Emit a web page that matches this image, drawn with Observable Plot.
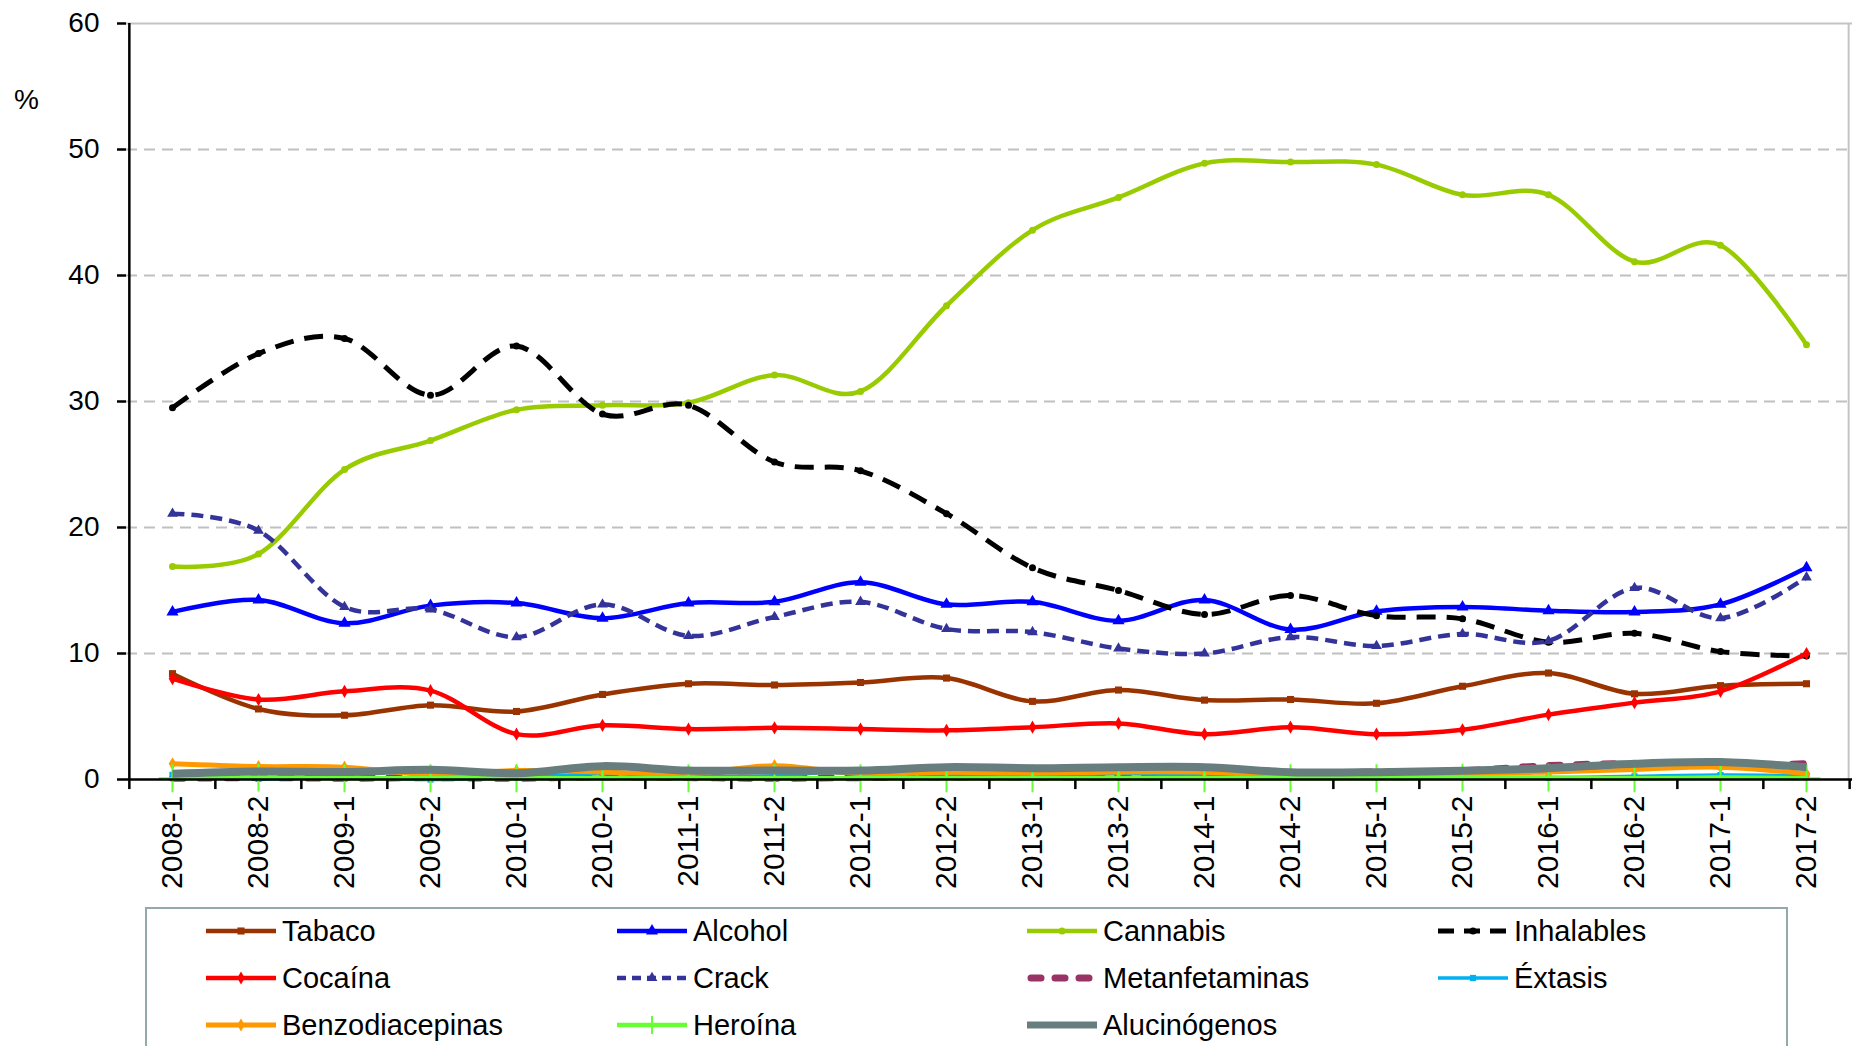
<!DOCTYPE html>
<html><head><meta charset="utf-8">
<script src="https://cdn.jsdelivr.net/npm/d3@7"></script>
<script src="https://cdn.jsdelivr.net/npm/@observablehq/plot@0.6"></script>
<style>
body{margin:0;background:#fff;font-family:"Liberation Sans",Arial,sans-serif;}
#wrap{position:relative;width:1854px;height:1046px;overflow:hidden;}
#legend{position:absolute;left:145px;top:907px;width:1643px;height:170px;border:2px solid #93aaaa;box-sizing:border-box;}
.item{position:absolute;height:30px;display:flex;align-items:center;font-size:29px;color:#000;white-space:nowrap;}
.item svg{display:block;margin-right:6px;}
</style></head><body>
<div id="wrap"><div id="chart"></div><div id="legend"></div></div>
<script>
const periods = ["2008-1","2008-2","2009-1","2009-2","2010-1","2010-2","2011-1","2011-2","2012-1","2012-2","2013-1","2013-2","2014-1","2014-2","2015-1","2015-2","2016-1","2016-2","2017-1","2017-2"];
const yTicks = [0, 10, 20, 30, 40, 50, 60];

const tabaco = [8.4, 5.6, 5.1, 5.9, 5.4, 6.75, 7.6, 7.5, 7.7, 8.05, 6.2, 7.1, 6.3, 6.35, 6.05, 7.4, 8.45, 6.8, 7.45, 7.6];
const alcohol = [13.3, 14.25, 12.4, 13.8, 14.0, 12.8, 14.0, 14.1, 15.65, 13.9, 14.1, 12.6, 14.25, 11.9, 13.35, 13.7, 13.4, 13.3, 13.9, 16.8];
const cannabis = [16.9, 17.9, 24.6, 26.9, 29.35, 29.7, 29.9, 32.1, 30.8, 37.6, 43.6, 46.2, 48.9, 49.0, 48.8, 46.4, 46.4, 41.1, 42.4, 34.5];
const inhalables = [29.5, 33.8, 35.0, 30.5, 34.4, 29.0, 29.7, 25.2, 24.5, 21.1, 16.8, 15.0, 13.1, 14.6, 13.0, 12.75, 10.9, 11.6, 10.15, 9.8];
const cocaina = [8.0, 6.35, 7.0, 7.05, 3.6, 4.3, 4.0, 4.1, 4.0, 3.9, 4.15, 4.45, 3.6, 4.15, 3.6, 3.95, 5.15, 6.1, 7.0, 10.0];
const crack = [21.1, 19.75, 13.7, 13.5, 11.3, 13.9, 11.4, 12.9, 14.1, 11.95, 11.7, 10.4, 10.0, 11.3, 10.6, 11.55, 11.0, 15.2, 12.8, 16.05];
const metanfetaminas = [0.1, 0.15, 0.1, 0.15, 0.1, 0.2, 0.15, 0.1, 0.15, 0.2, 0.2, 0.2, 0.25, 0.4, 0.6, 0.7, 1.1, 1.25, 1.1, 1.25];
const extasis = [0.37, 0.05, 0.2, 0.0, 0.15, 0.45, 0.25, 0.3, 0.7, 0.3, 0.3, 0.45, 0.35, 0.25, 0.25, 0.2, 0.15, 0.25, 0.35, 0.3];
const benzodiacepinas = [1.25, 1.03, 0.98, 0.37, 0.71, 0.6, 0.45, 1.1, 0.45, 0.58, 0.5, 0.6, 0.58, 0.3, 0.45, 0.45, 0.6, 0.8, 0.98, 0.45];
const heroina = [0.1, 0.15, 0.1, 0.1, 0.1, 0.1, 0.1, 0.1, 0.1, 0.1, 0.1, 0.1, 0.1, 0.1, 0.1, 0.15, 0.15, 0.1, 0.15, 0.1];
const alucinogenos = [0.45, 0.63, 0.6, 0.77, 0.5, 1.06, 0.71, 0.71, 0.71, 0.98, 0.9, 0.98, 0.98, 0.58, 0.58, 0.7, 0.9, 1.25, 1.38, 0.98];

const series = [
  {name: "Tabaco", values: tabaco, color: "#993300", width: 4.5, dash: null, symbol: "square", r: 4},
  {name: "Alcohol", values: alcohol, color: "#0000ff", width: 4.5, dash: null, symbol: "triangle", r: 4.5},
  {name: "Cannabis", values: cannabis, color: "#99cc00", width: 4.5, dash: null, symbol: "circle", r: 3.5},
  {name: "Inhalables", values: inhalables, color: "#000000", width: 5, dash: "19,11", symbol: "circle", r: 3.5},
  {name: "Cocaína", values: cocaina, color: "#ff0000", width: 4.5, dash: null, symbol: "diamond", r: 4},
  {name: "Crack", values: crack, color: "#333399", width: 4.5, dash: "12,7", symbol: "triangle", r: 4},
  {name: "Metanfetaminas", values: metanfetaminas, color: "#993366", width: 7, dash: "11,16", cap: "round", symbol: null},
  {name: "Éxtasis", values: extasis, color: "#00b0f0", width: 3.5, dash: null, symbol: "square", r: 3.5},
  {name: "Benzodiacepinas", values: benzodiacepinas, color: "#ff9900", width: 5, dash: null, symbol: "diamond", r: 4},
  {name: "Heroína", values: heroina, color: "#66ff33", width: 4.5, dash: null, symbol: "plus", r: 9},
  {name: "Alucinógenos", values: alucinogenos, color: "#687e7e", width: 8, dash: null, symbol: null}
];

const W = 1854, H = 905, ML = 126, MR = 2, MT = 23, MB = 126;
const step = (W - ML - MR) / periods.length;

const marks = [
  Plot.ruleY([10, 20, 30, 40, 50], {stroke: "#c0c0c0", strokeWidth: 2, strokeDasharray: "11,7"}),
  Plot.ruleY([60], {stroke: "#c4c4c4", strokeWidth: 2}),
  Plot.ruleX([periods[periods.length - 1]], {dx: step / 2 - 1, y1: 0, y2: 60, stroke: "#c4c4c4", strokeWidth: 2})
];

for (const s of series) {
  const rows = periods.map((p, i) => ({period: p, value: s.values[i]}));
  marks.push(Plot.line(rows, {
    x: "period", y: "value", stroke: s.color, strokeWidth: s.width,
    strokeDasharray: s.dash || undefined, strokeLinecap: s.cap || "butt",
    strokeLinejoin: "round", curve: "cardinal"
  }));
  if (s.symbol === "plus") {
    marks.push(Plot.dot(rows, {x: "period", y: "value", symbol: "plus", r: s.r, stroke: s.color, strokeWidth: 2}));
  } else if (s.symbol) {
    marks.push(Plot.dot(rows, {x: "period", y: "value", symbol: s.symbol, r: s.r, fill: s.color, stroke: "none"}));
  }
}

marks.push(
  Plot.ruleY([0], {stroke: "#000", strokeWidth: 2.5}),
  Plot.ruleX([periods[0]], {dx: -step / 2, y1: 0, y2: 60, stroke: "#000", strokeWidth: 2.5}),
  Plot.ruleX(periods, {dx: -step / 2, y1: 0, y2: -0.8, stroke: "#000", strokeWidth: 2.5}),
  Plot.ruleX([periods[periods.length - 1]], {dx: step / 2, y1: 0, y2: -0.8, stroke: "#000", strokeWidth: 2.5}),
  Plot.axisY({ticks: yTicks, tickSize: 9, tickPadding: 18, fontSize: 28, tickFormat: d => String(d), label: null, stroke: "#000", strokeWidth: 2.5}),
  Plot.text(periods, {x: d => d, y: d => 0, dy: 16, rotate: -90, textAnchor: "end", fontSize: 30, fill: "#000"}),
  Plot.text(["%"], {y: d => 53.9, frameAnchor: "left", dx: -100, fontSize: 28, fill: "#000", textAnchor: "middle"})
);

const chart = Plot.plot({
  width: W, height: H,
  marginLeft: ML, marginRight: MR, marginTop: MT, marginBottom: MB,
  x: {type: "point", domain: periods, padding: 0.5, axis: null},
  y: {domain: [0, 60]},
  style: {fontFamily: "'Liberation Sans', Arial, sans-serif", background: "#fff", color: "#000", overflow: "visible"},
  marks
});
document.getElementById("chart").appendChild(chart);

// Legend
const legend = document.getElementById("legend");
const colX = [59, 470, 880, 1291];
const rowY = [22, 69, 116];
series.forEach((s, i) => {
  const col = i % 4, row = Math.floor(i / 4);
  const div = document.createElement("div");
  div.className = "item";
  div.style.left = colX[col] + "px";
  div.style.top = (rowY[row] - 15) + "px";
  const ns = "http://www.w3.org/2000/svg";
  const svg = document.createElementNS(ns, "svg");
  svg.setAttribute("width", 70); svg.setAttribute("height", 30);
  const line = document.createElementNS(ns, "line");
  line.setAttribute("x1", s.cap === "round" ? 4 : 0); line.setAttribute("x2", s.cap === "round" ? 66 : 70);
  line.setAttribute("y1", 15); line.setAttribute("y2", 15);
  line.setAttribute("stroke", s.color);
  line.setAttribute("stroke-width", Math.min(s.width, 7));
  if (s.dash) line.setAttribute("stroke-dasharray", s.name === "Inhalables" ? "16,10" : s.name === "Crack" ? "9,6" : "10,14");
  if (s.cap) line.setAttribute("stroke-linecap", s.cap);
  svg.appendChild(line);
  if (s.symbol === "plus") {
    const v = document.createElementNS(ns, "line");
    v.setAttribute("x1", 35); v.setAttribute("x2", 35); v.setAttribute("y1", 6); v.setAttribute("y2", 24);
    v.setAttribute("stroke", s.color); v.setAttribute("stroke-width", 2);
    svg.appendChild(v);
  } else if (s.symbol) {
    const p = document.createElementNS(ns, "path");
    const sym = {square: d3.symbolSquare, triangle: d3.symbolTriangle, circle: d3.symbolCircle, diamond: d3.symbolDiamond}[s.symbol];
    p.setAttribute("d", d3.symbol(sym, Math.PI * s.r * s.r)());
    p.setAttribute("transform", "translate(35,15)");
    p.setAttribute("fill", s.color);
    svg.appendChild(p);
  }
  const span = document.createElement("span");
  span.textContent = s.name;
  div.appendChild(svg); div.appendChild(span);
  legend.appendChild(div);
});
</script>
</body></html>
